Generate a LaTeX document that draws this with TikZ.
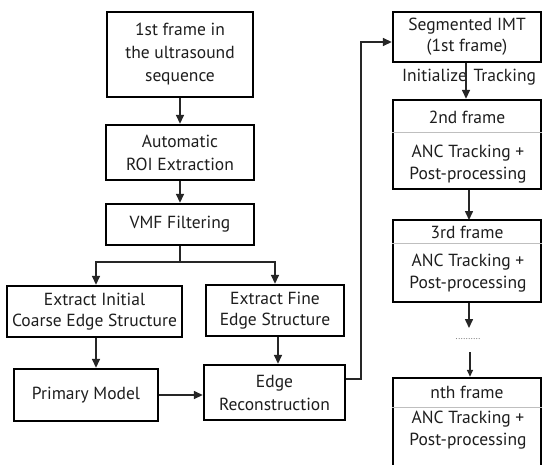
\documentclass[tikz,border=0pt]{standalone}
\usepackage{fontspec}
\setmainfont{PT Sans}
\usetikzlibrary{arrows.meta,calc}
\definecolor{txt}{HTML}{1E1E1E}
\tikzset{
  box/.style={draw=black,line width=2.4pt,align=center,text=txt,inner sep=1pt,
    font=\fontsize{17.5}{23}\selectfont},
  conn/.style={line width=1.5pt,draw=black!85},
  arr/.style={conn,-{Triangle[length=9pt,width=8pt]}},
  divider/.style={draw=black!25,line width=0.6pt},
  lbl/.style={text=txt,inner sep=0pt,font=\fontsize{17.5}{22}\selectfont}
}
\begin{document}
\begin{tikzpicture}[x=1pt,y=-1pt]
\useasboundingbox (0,0) rectangle (543,464);
\clip (0,0) rectangle (543,464);
\fill[white] (0,0) rectangle (543,464);
% left column
\node[box,minimum width=146,minimum height=85] (b1) at (180,54.5) {1st frame in\\the ultrasound\\sequence};
\node[box,minimum width=148,minimum height=55] (b2) at (180,152.5) {Automatic\\ROI Extraction};
\node[box,minimum width=148,minimum height=41] (b3) at (180,224.5) {VMF Filtering};
\node[box,minimum width=175,minimum height=51,font=\fontsize{17.5}{21}\selectfont] (b4) at (94.5,311.5) {Extract Initial\\Coarse Edge Structure};
\node[box,minimum width=138,minimum height=51,font=\fontsize{17.5}{21}\selectfont] (b5) at (275,310.5) {Extract Fine\\Edge Structure};
\node[box,minimum width=144,minimum height=52] (b6) at (86,395) {Primary Model};
\node[box,minimum width=141,minimum height=55] (b7) at (274.5,392.5) {Edge\\Reconstruction};
% right column
\node[box,minimum width=148,minimum height=50,font=\fontsize{17.5}{21}\selectfont] (b8) at (467,37) {Segmented IMT\\(1st frame)};
\node[box,minimum width=148,minimum height=89] (b9) at (467,144.5) {};
\node[box,minimum width=148,minimum height=82] (b10) at (467,261) {};
\node[box,minimum width=148,minimum height=92] (b11) at (467,424) {};
% right column texts
\node[lbl] (t9a) at (467,117) {2nd frame};
\node[lbl,align=center] (t9b) at (468,164) {ANC Tracking +\\Post-processing};
\node[lbl] (t10a) at (467,232) {3rd frame};
\node[lbl,align=center] (t10b) at (468,273) {ANC Tracking +\\Post-processing};
\node[lbl] (t11a) at (467,392) {nth frame};
\node[lbl,align=center] (t11b) at (468,430) {ANC Tracking +\\Post-processing};
\draw[divider] (b9.west |- 0,132) -- (b9.east |- 0,132);
\draw[divider] (b10.west |- 0,243) -- (b10.east |- 0,243);
\draw[divider] (b11.west |- 0,407) -- (b11.east |- 0,407);
\node[lbl] (init) at (469,77) {Initialize\hspace{2pt} Tracking};
\node[inner sep=0pt,text=black!60,font=\fontsize{9}{9}\selectfont] (dots) at (468,339) {..........};
% connectors
\draw[arr] (b1.south) -- (b2.north);
\draw[arr] (b2.south) -- (b3.north);
\draw[conn] (b3.south) -- ++(0,16) coordinate (split);
\draw[arr] (split) -| ([xshift=1.5pt]b4.north);
\draw[arr] (split) -| (b5.north);
\draw[arr] ([xshift=1.5pt]b4.south) -- ([xshift=1.5pt]b4.south |- b6.north);
\draw[arr] ([xshift=3pt]b5.south) -- ([xshift=3pt]b5.south |- b7.north);
\draw[arr] (b6.east) -- (b6.east -| b7.west);
\draw[arr] ([yshift=13.5pt]b7.east) -- ++(15,0) |- ([yshift=-5pt]b8.west);
\draw[arr] ([xshift=-1pt]b8.south) -- ([xshift=-1pt]b9.north);
\draw[arr] ([xshift=2pt]b9.south) -- ([xshift=2pt]b9.south |- 0,220);
\draw[arr] ([xshift=2pt]b10.south) -- ([xshift=2pt]b10.south |- 0,328);
\draw[conn,-{Triangle[length=7pt,width=6pt]}] ([xshift=2pt]dots.south |- 0,352) -- ([xshift=2pt]dots.south |- b11.north);
\end{tikzpicture}
\end{document}
